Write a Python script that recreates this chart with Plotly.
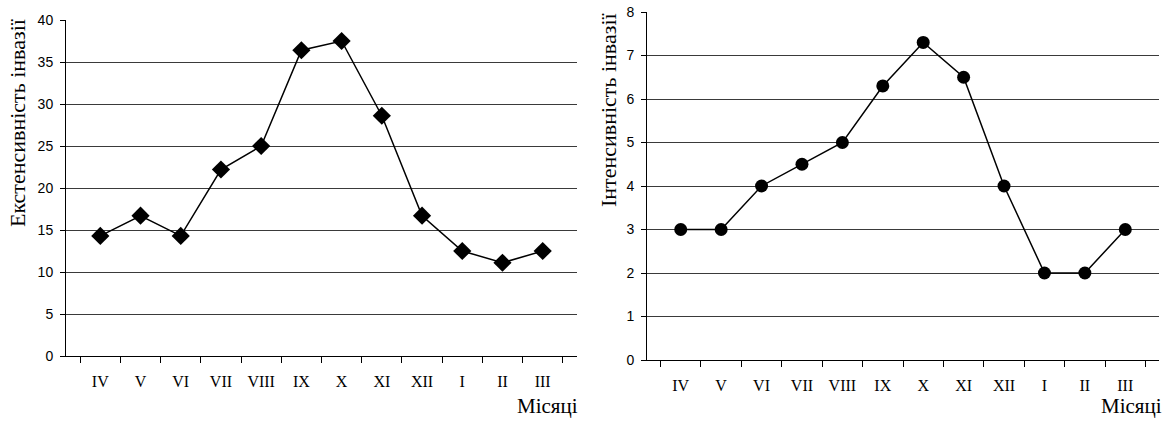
import plotly.graph_objects as go

months = ["IV", "V", "VI", "VII", "VIII", "IX", "X", "XI", "XII", "I", "II", "III"]
extensity = [14.3, 16.7, 14.3, 22.2, 25.0, 36.4, 37.5, 28.6, 16.7, 12.5, 11.1, 12.5]
intensity = [3.0, 3.0, 4.0, 4.5, 5.0, 6.3, 7.3, 6.5, 4.0, 2.0, 2.0, 3.0]
left_yticks = [0, 5, 10, 15, 20, 25, 30, 35, 40]
right_yticks = [0, 1, 2, 3, 4, 5, 6, 7, 8]

W, H = 1166, 421
SERIF = "Liberation Serif, Times New Roman, serif"
SANS = "Liberation Sans, Arial, sans-serif"

fig = go.Figure()
fig.add_trace(go.Scatter(x=months, y=extensity, mode="lines+markers",
                         line=dict(color="black", width=1.5),
                         marker=dict(symbol="diamond", size=14, color="black"),
                         xaxis="x", yaxis="y", showlegend=False))
fig.add_trace(go.Scatter(x=months, y=intensity, mode="lines+markers",
                         line=dict(color="black", width=1.5),
                         marker=dict(symbol="circle", size=13, color="black"),
                         xaxis="x2", yaxis="y2", showlegend=False))

xcommon = dict(type="category", tickson="boundaries", ticks="outside", ticklen=6,
               tickcolor="black", showline=True, linecolor="black", linewidth=1,
               showgrid=False, tickfont=dict(family=SERIF, size=16, color="black"),
               ticklabelstandoff=11, fixedrange=True, automargin=False)
ycommon = dict(ticks="outside", ticklen=5, tickcolor="black", showline=True,
               linecolor="black", linewidth=1, showgrid=True, gridcolor="#3a3a3a",
               gridwidth=1, zeroline=False, tickfont=dict(family=SANS, size=14, color="black"),
               ticklabelstandoff=4, fixedrange=True, automargin=False)

fig.update_layout(
    width=W, height=H,
    margin=dict(l=0, r=0, t=0, b=0, autoexpand=False),
    paper_bgcolor="white", plot_bgcolor="white",
    xaxis=dict(domain=[66 / W, 577 / W], anchor="y", **xcommon),
    yaxis=dict(domain=[1 - 356 / H, 1 - 20 / H], anchor="x", range=[0, 40],
               tickvals=left_yticks, **ycommon),
    xaxis2=dict(domain=[647 / W, 1159 / W], anchor="y2", **xcommon),
    yaxis2=dict(domain=[1 - 360 / H, 1 - 12 / H], anchor="x2", range=[0, 8],
                tickvals=right_yticks, **ycommon),
    annotations=[
        dict(text="Екстенсивність інвазії", xref="paper", yref="paper",
             x=18 / W, y=1 - 123 / H, textangle=-90, showarrow=False,
             font=dict(family=SERIF, size=22, color="black"),
             xanchor="center", yanchor="middle"),
        dict(text="Інтенсивність інвазії", xref="paper", yref="paper",
             x=609 / W, y=1 - 109 / H, textangle=-90, showarrow=False,
             font=dict(family=SERIF, size=22, color="black"),
             xanchor="center", yanchor="middle"),
        dict(text="Місяці", xref="paper", yref="paper",
             x=579 / W, y=1 - 406 / H, showarrow=False, borderpad=0,
             font=dict(family=SERIF, size=21, color="black"),
             xanchor="right", yanchor="middle"),
        dict(text="Місяці", xref="paper", yref="paper",
             x=1163 / W, y=1 - 406 / H, showarrow=False, borderpad=0,
             font=dict(family=SERIF, size=21, color="black"),
             xanchor="right", yanchor="middle"),
    ],
)

fig.write_html("out.html", config={"displayModeBar": False},
               post_script="document.body.style.margin='0';document.body.style.overflow='hidden';")
